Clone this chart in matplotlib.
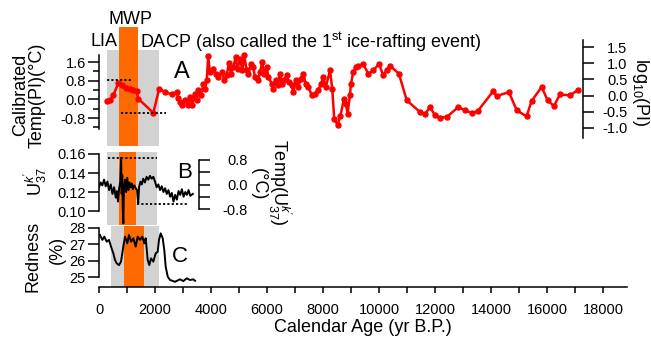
"""Paleoclimate records: calibrated temperature (PI), U37k' and redness vs calendar age."""

import matplotlib.pyplot as plt
from matplotlib.ticker import FixedLocator, FormatStrFormatter, MultipleLocator

plt.rcParams["font.family"] = ["Liberation Sans", "DejaVu Sans"]
plt.rcParams["mathtext.fontset"] = "custom"
plt.rcParams["mathtext.rm"] = "Liberation Sans"
plt.rcParams["mathtext.it"] = "Liberation Sans:italic"

# ---- data ----
red_age = [275, 393, 510, 690, 810, 950, 1100, 1230, 1350, 1400, 1940, 2150, 2360,
           2600, 2770, 2830, 2890, 2980, 3070, 3170, 3250, 3330, 3430, 3490, 3550,
           3640, 3730, 3790, 3850, 3900, 3960, 4080, 4170, 4260, 4380, 4480, 4560,
           4640, 4710, 4800, 4880, 4950, 5040, 5120, 5190, 5270, 5330, 5430, 5510,
           5570, 5690, 5750, 5830, 5900, 5990, 6050, 6170, 6230, 6310, 6380, 6460,
           6520, 6620, 6700, 6790, 6880, 6940, 7020, 7120, 7200, 7300, 7380, 7480,
           7600, 7710, 7830, 7930, 8010, 8100, 8250, 8330, 8400, 8520, 8620, 8750,
           8810, 8880, 8960, 9000, 9080, 9170, 9260, 9440, 9620, 9800, 10000, 10150,
           10270, 10390, 10710, 10990, 11460, 11640, 11820, 12000, 12180, 12420,
           12830, 13070, 13310, 13520, 14080, 14200, 14640, 14920, 15270, 15450,
           15810, 16020, 16250, 16460, 16820, 17120]
red_temp = [-0.09, -0.01, 0.17, 0.70, 0.60, 0.48, 0.43, 0.38, 0.34, 0.03, -0.58, 0.46, 0.31,
            0.21, 0.31, 0.07, -0.11, -0.26, -0.04, -0.23, 0.10, -0.26, 0.24, -0.04, 0.41,
            0.17, 0.67, 0.46, 0.84, 1.84, 1.17, 1.31, 1.10, 0.95, 1.17, 0.84, 1.03,
            1.55, 1.10, 1.38, 1.81, 1.31, 1.74, 1.24, 1.88, 1.24, 1.10, 1.52, 1.38,
            0.95, 0.81, 1.17, 1.59, 1.10, 1.38, 0.95, 0.67, 0.46, 0.81, 0.60, 1.10,
            0.67, 0.84, 1.03, 0.74, 0.60, 0.31, 0.81, 0.53, 0.88, 1.10, 0.67, 0.53,
            0.17, 0.21, 0.38, 0.67, 0.95, 0.53, 1.24, 0.46, -0.83, -1.10, -0.72, 0.03,
            -0.18, -0.61, 0.17, 0.67, 1.17, 1.38, 1.45, 1.50, 1.10, 1.24, 1.52, 1.03,
            1.24, 1.45, 1.10, -0.04, -0.54, -0.64, -0.33, -0.68, -0.78, -0.76,
            -0.33, -0.47, -0.58, -0.51, 0.35, 0.14, 0.31, -0.47, -0.73, -0.07,
            0.53, -0.04, -0.29, 0.21, 0.17, 0.41]

uk_age = [0, 60, 120, 180, 240, 300, 360, 420, 480, 540, 600, 640, 680, 720, 760,
          790, 810, 830, 850, 870, 890, 930, 970, 1010, 1050, 1090, 1130, 1170, 1210,
          1260, 1310, 1360, 1400, 1430, 1480, 1530, 1580, 1640, 1700, 1760, 1820,
          1880, 1940, 2000, 2060, 2120, 2180, 2240, 2300, 2360, 2420, 2480, 2540,
          2600, 2660, 2720, 2780, 2840, 2900, 2960, 3020, 3080, 3140, 3200, 3260, 3350]
uk_val = [0.125, 0.130, 0.127, 0.133, 0.126, 0.131, 0.122, 0.128, 0.118, 0.125, 0.114,
          0.121, 0.110, 0.124, 0.131, 0.156, 0.118, 0.138, 0.100, 0.087, 0.125, 0.133,
          0.120, 0.135, 0.122, 0.130, 0.125, 0.129, 0.123, 0.127, 0.124, 0.122, 0.108,
          0.125, 0.131, 0.128, 0.134, 0.130, 0.136, 0.133, 0.137, 0.134, 0.136, 0.131,
          0.125, 0.128, 0.122, 0.126, 0.120, 0.124, 0.118, 0.122, 0.115, 0.119, 0.110,
          0.117, 0.112, 0.121, 0.117, 0.123, 0.115, 0.120, 0.117, 0.122, 0.116, 0.118]

red_age_c = [36, 118, 189, 275, 357, 429, 511, 571, 632, 714, 786, 868, 928, 1011,
             1071, 1143, 1225, 1310, 1382, 1464, 1546, 1618, 1668, 1739, 1796, 1857,
             1939, 2025, 2096, 2143, 2203, 2275, 2332, 2382, 2454, 2536, 2714, 2893,
             3011, 3132, 3250, 3368, 3430]
redness = [27.57, 27.27, 27.47, 27.16, 27.27, 26.86, 26.45, 26.04, 25.84, 25.73, 25.94,
           26.86, 27.47, 27.06, 27.57, 27.16, 27.37, 26.86, 27.47, 27.27, 27.47, 27.06,
           27.37, 26.04, 25.73, 26.14, 25.94, 26.45, 26.55, 27.27, 27.67, 27.37, 26.65,
           25.63, 25.02, 24.82, 24.71, 24.86, 24.75, 24.92, 24.82, 24.86, 24.77]

# climate episodes (start, end) per panel: LIA..DACP grey, MWP orange
gray_spans = [(297, 2130), (297, 2080), (429, 2150)]
mwp_spans = [(726, 1390), (726, 1321), (905, 1618)]
# reference levels (dotted)
a_levels = [(0.85, 275, 1225), (-0.59, 786, 2382)]
b_levels = [(0.1555, 333, 2060), (0.1074, 1345, 3190)]

GRAY = "#d2d2d2"
ORANGE = "#ff6a00"
W, H = 651, 339
XMAX = 528 / 0.028


def box(top, bottom):
    return [99 / W, 1 - bottom / H, 528 / W, (bottom - top) / H]


def style(ax):
    ax.patch.set_visible(False)
    for s in ax.spines.values():
        s.set_visible(False)
        s.set_linewidth(1.1)
    ax.set_xlim(0, XMAX)
    ax.tick_params(axis="x", bottom=False, labelbottom=False, top=False)
    ax.tick_params(axis="y", which="major", length=8, width=1.1, labelsize=10.5, pad=1.5)
    ax.tick_params(axis="y", which="minor", length=4, width=1.1)


fig = plt.figure(figsize=(W / 100, H / 100), dpi=100)

# ---- panel A ----
axA = fig.add_axes(box(38, 146))
style(axA)
axA.axvspan(*gray_spans[0], ymax=(146 - 50) / 108, color=GRAY, lw=0)
axA.axvspan(*mwp_spans[0], ymax=(146 - 27) / 108, color=ORANGE, lw=0, clip_on=False)
axA.plot(red_age, red_temp, color="#ff0000", marker="o", ms=3.6, lw=1.8)
for y, x0, x1 in a_levels:
    axA.hlines(y, x0, x1, colors="black", linestyles=(0, (1.2, 1.2)), lw=1.3)
axA.set_ylim(-2.0, 2.63)
axA.spines["left"].set_visible(True)
axA.spines["left"].set_bounds(-1.25, 1.9)
axA.yaxis.set_major_locator(FixedLocator([-0.8, 0.0, 0.8, 1.6]))
axA.yaxis.set_minor_locator(FixedLocator([-1.2, -0.4, 0.4, 1.2]))
axA.yaxis.set_major_formatter(FormatStrFormatter("%.1f"))

axA2 = axA.twinx()
style(axA2)
axA2.set_ylim(-1.56, 1.78)
axA2.spines["right"].set_visible(True)
axA2.spines["right"].set_position(("data", 17286))
axA2.spines["right"].set_bounds(-1.3, 1.72)
axA2.yaxis.set_major_locator(FixedLocator([-1.0, -0.5, 0.0, 0.5, 1.0, 1.5]))
axA2.yaxis.set_major_formatter(FormatStrFormatter("%.1f"))
axA2.tick_params(axis="y", pad=24)
for lab in axA2.get_yticklabels():
    lab.set_ha("right")

# ---- panel B ----
axB = fig.add_axes(box(152, 225))
style(axB)
axB.axvspan(*gray_spans[1], color=GRAY, lw=0)
axB.axvspan(*mwp_spans[1], color=ORANGE, lw=0)
axB.plot(uk_age, uk_val, color="black", lw=1.4)
for y, x0, x1 in b_levels:
    axB.hlines(y, x0, x1, colors="black", linestyles=(0, (1.2, 1.2)), lw=1.3)
axB.set_ylim(0.0853, 0.1621)
axB.spines["left"].set_visible(True)
axB.spines["left"].set_bounds(0.10, 0.16)
axB.yaxis.set_major_locator(FixedLocator([0.10, 0.12, 0.14, 0.16]))
axB.yaxis.set_major_formatter(FormatStrFormatter("%.2f"))

axB2 = axB.twinx()
style(axB2)
axB2.set_ylim(-1.32, 1.06)
axB2.spines["right"].set_visible(True)
axB2.spines["right"].set_position(("data", 3571))
axB2.spines["right"].set_bounds(-0.8, 0.8)
axB2.yaxis.set_major_locator(FixedLocator([-0.8, 0.0, 0.8]))
axB2.yaxis.set_minor_locator(FixedLocator([-0.4, 0.4]))
axB2.yaxis.set_major_formatter(FormatStrFormatter("%.1f"))
axB2.tick_params(axis="y", which="minor", length=8)
axB2.tick_params(axis="y", pad=27)
for lab in axB2.get_yticklabels():
    lab.set_ha("right")

# ---- panel C ----
axC = fig.add_axes(box(226, 287))
style(axC)
axC.axvspan(*gray_spans[2], color=GRAY, lw=0)
axC.axvspan(*mwp_spans[2], color=ORANGE, lw=0)
axC.plot(red_age_c, redness, color="black", lw=1.4)
axC.set_ylim(24.39, 28.12)
axC.spines["left"].set_visible(True)
axC.spines["left"].set_bounds(25, 28)
axC.yaxis.set_major_locator(FixedLocator([25, 26, 27, 28]))
axC.spines["bottom"].set_visible(True)
axC.xaxis.set_major_locator(MultipleLocator(2000))
axC.xaxis.set_minor_locator(MultipleLocator(1000))
axC.tick_params(axis="x", which="both", bottom=True, labelbottom=True,
                length=4.5, width=1.1, labelsize=10.5, pad=7)

# ---- labels / annotations ----
fs = 13
fig.text(131 / W, 1 - 19 / H, "MWP", fontsize=fs, ha="center", va="center")
fig.text(91 / W, 1 - 42 / H, "LIA", fontsize=fs, ha="left", va="center")
fig.text(140 / W, 1 - 42 / H, "DACP (also called the 1$^{\\mathrm{st}}$ ice-rafting event)",
         fontsize=fs, ha="left", va="center")
fig.text(182 / W, 1 - 72 / H, "A", fontsize=17, ha="center", va="center")
fig.text(185 / W, 1 - 173 / H, "B", fontsize=16, ha="center", va="center")
fig.text(180 / W, 1 - 256 / H, "C", fontsize=16, ha="center", va="center")

fig.text(21 / W, 1 - 95 / H, "Calibrated", fontsize=fs, rotation=90, ha="center", va="center")
fig.text(37 / W, 1 - 95 / H, "Temp(PI)(°C)", fontsize=fs, rotation=90, ha="center", va="center")
fig.text(35 / W, 1 - 182 / H, "U$^{k'}_{37}$", fontsize=fs, rotation=90, ha="center", va="center")
fig.text(33 / W, 1 - 256 / H, "Redness", fontsize=fs, rotation=90, ha="center", va="center")
fig.text(57 / W, 1 - 250 / H, "(%)", fontsize=fs, rotation=90, ha="center", va="center")

fig.text(641 / W, 1 - 92 / H, "log$_{10}$(PI)", fontsize=fs, rotation=-90, ha="center", va="center")
fig.text(280 / W, 1 - 182 / H, "Temp(U$^{k'}_{37}$)", fontsize=fs, rotation=-90,
         ha="center", va="center")
fig.text(258 / W, 1 - 184 / H, "(°C)", fontsize=fs, rotation=-90, ha="center", va="center")

fig.text(363 / W, 1 - 328 / H, "Calendar Age (yr B.P.)", fontsize=fs, ha="center", va="center")

fig.savefig("out.png", dpi=100)
